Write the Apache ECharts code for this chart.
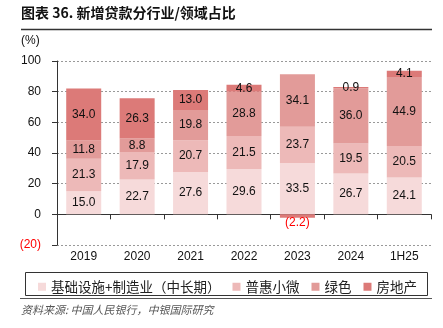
<!DOCTYPE html>
<html>
<head>
<meta charset="utf-8">
<script src="https://cdn.jsdelivr.net/npm/echarts@6/dist/echarts.min.js"></script>
<style>
html, body { margin: 0; padding: 0; background: #fff; }
#loanChart { width: 443px; height: 328px; }
</style>
</head>
<body>
<div id="loanChart"></div>
<script>
// 年份
var years = ['2019', '2020', '2021', '2022', '2023', '2024', '1H25'];
// 各领域新增贷款占比 (%)
var infraMfg = [15.0, 22.7, 27.6, 29.6, 33.5, 26.7, 24.1];
var inclusive = [21.3, 17.9, 20.7, 21.5, 23.7, 19.5, 20.5];
var green = [11.8, 8.8, 19.8, 28.8, 34.1, 36.0, 44.9];
var realEstate = [34.0, 26.3, 13.0, 4.6, -2.2, 0.9, 4.1];
var seriesNames = ['基础设施+制造业（中长期）', '普惠小微', '绿色', '房地产'];
var yTicks = [-20, 0, 20, 40, 60, 80, 100];

var colors = ['#F6DADA', '#EDB9B8', '#E29B99', '#DC7A78'];
var cjk = '"Noto Sans CJK SC", sans-serif';
var latin = '"Liberation Sans", Arial, sans-serif';

// 负值用括号红字表示
function fmtVal(v) {
	if (v < 0) {
		return '{neg|(' + Math.abs(v).toFixed(1) + ')}';
	}
	return v.toFixed(1);
}

function makeSeries(name, arr, idx) {
	var data = [];
	for (var i = 0; i < arr.length; i++) {
		if (arr[i] < 0) {
			data.push({ value: arr[i], label: { position: 'bottom', distance: -1 } });
		} else {
			data.push(arr[i]);
		}
	}
	return {
		name: name,
		type: 'bar',
		stack: 'total',
		barWidth: 35,
		itemStyle: { color: colors[idx] },
		label: {
			show: true,
			position: 'inside',
			color: '#111',
			fontFamily: latin,
			fontSize: 12,
			formatter: function(p) { return fmtVal(p.value); },
			rich: { neg: { color: '#FF0000', fontFamily: latin, fontSize: 12 } }
		},
		data: data
	};
}

var myChart = echarts.init(document.getElementById('loanChart'));
var option = {
	animation: false,
	grid: { left: 57, right: 12, top: 61, bottom: 83 },
	graphic: [
		{ type: 'text', left: 21, top: 6, style: { text: '图表 36. 新增贷款分行业/领域占比', font: 'bold 14px ' + cjk, fill: '#111' } },
		{ type: 'line', shape: { x1: 21, y1: 29.5, x2: 432, y2: 29.5 }, style: { stroke: '#333', lineWidth: 1.5 } },
		{ type: 'text', left: 21, top: 35, style: { text: '(%)', font: '12px ' + latin, fill: '#111' } },
		{ type: 'rect', shape: { x: 25.5, y: 272.5, width: 402, height: 23 }, style: { fill: 'none', stroke: '#333', lineWidth: 1 } },
		{ type: 'line', shape: { x1: 20, y1: 298.5, x2: 432, y2: 298.5 }, style: { stroke: '#555', lineWidth: 1.2 } },
		{ type: 'text', left: 21, top: 304, style: { text: '资料来源: 中国人民银行，中银国际研究', font: 'italic 11px ' + cjk, fill: '#555' } }
	],
	legend: {
		data: seriesNames,
		left: 33,
		top: 275,
		itemWidth: 8,
		itemHeight: 8,
		itemGap: 12,
		icon: 'rect',
		textStyle: { fontFamily: cjk, fontSize: 13.5, color: '#222' }
	},
	xAxis: {
		type: 'category',
		data: years,
		axisLine: { onZero: true, lineStyle: { color: '#333', width: 1 } },
		axisTick: { show: true, length: 5, lineStyle: { color: '#333' } },
		axisLabel: { margin: 6, color: '#111', fontFamily: latin, fontSize: 12 }
	},
	yAxis: {
		type: 'value',
		min: yTicks[0],
		max: yTicks[yTicks.length - 1],
		interval: 20,
		axisLine: { show: true, lineStyle: { color: '#333' } },
		axisTick: { show: true, length: 5, lineStyle: { color: '#333' } },
		axisLabel: {
			margin: 16,
			fontFamily: latin,
			fontSize: 12,
			color: '#111',
			formatter: function(v) {
				return v < 0 ? '{neg|(' + Math.abs(v) + ')}' : String(v);
			},
			rich: { neg: { color: '#FF0000', fontFamily: latin, fontSize: 12 } }
		},
		splitLine: { show: true, lineStyle: { color: '#999', type: [2, 2], width: 1 } }
	},
	series: [
		makeSeries(seriesNames[0], infraMfg, 0),
		makeSeries(seriesNames[1], inclusive, 1),
		makeSeries(seriesNames[2], green, 2),
		makeSeries(seriesNames[3], realEstate, 3)
	]
};
myChart.setOption(option);
</script>
</body>
</html>
